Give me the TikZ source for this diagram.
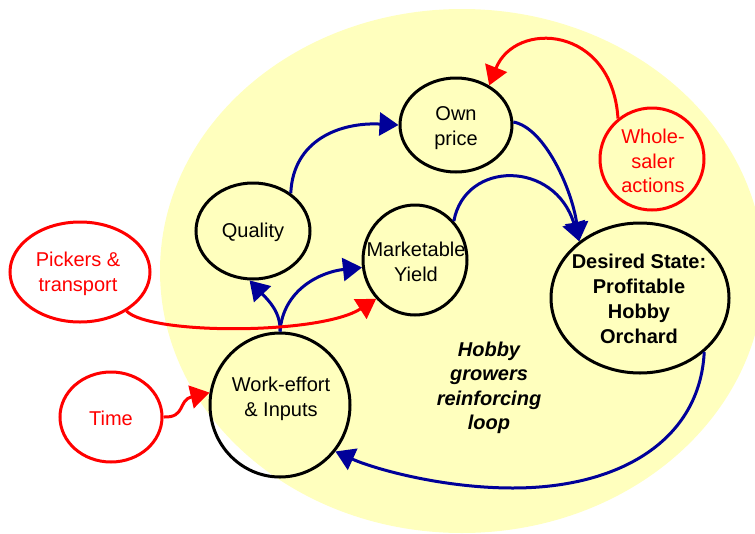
\documentclass[tikz,border=0pt]{standalone}
\usepackage{fontspec}
\setmainfont{Liberation Sans}
\usetikzlibrary{arrows.meta,shapes.geometric}
\definecolor{loopfill}{RGB}{255,255,190}
\definecolor{linkblue}{RGB}{0,0,153}
\definecolor{extred}{RGB}{255,0,0}
\begin{document}
\begin{tikzpicture}[x=1pt,y=-1pt,
  every node/.style={font=\fontsize{20}{24.5}\selectfont, align=center, inner sep=0pt},
  var/.style={ellipse, draw=black, line width=3pt},
  ext/.style={ellipse, draw=extred, line width=3pt},
  exttext/.style={text=extred},
  link/.style={draw=linkblue, line width=3pt, -{Triangle[length=19pt,width=23pt]}},
  push/.style={draw=extred, line width=3pt, -{Triangle[length=19pt,width=23pt]}}]
\useasboundingbox (0,0) rectangle (755,533);
\begin{scope}
  \clip (0,0) rectangle (755,533);
  \fill[loopfill] (462,271) ellipse [x radius=302, y radius=262];
\end{scope}

% variables of the loop (outlines)
\node[var, minimum width=112pt, minimum height=94pt] (op) at (456,125) {};
\node[var, minimum width=114pt, minimum height=96pt] (ql) at (253,231) {};
\node[var, minimum width=104pt, minimum height=110pt] (my) at (415,260) {};
\node[var, minimum width=178pt, minimum height=150pt] (ds) at (640,298) {};
\node[var, minimum width=140pt, minimum height=144pt] (we) at (280,405) {};

% outside influences (outlines)
\node[ext, minimum width=104pt, minimum height=102pt] (ws) at (652,159) {};
\node[ext, minimum width=140pt, minimum height=100pt] (pt) at (80,272) {};
\node[ext, minimum width=102pt, minimum height=90pt] (tm) at (111,417) {};

% texts
\node (op-t) at (456,128) {Own\\price};
\node (ql-t) at (253,232) {Quality};
\node (my-t) at (416,262) {Marketable\\Yield};
\node[font=\fontsize{20}{25}\selectfont\bfseries] (ds-t) at (639,299) {Desired State:\\Profitable\\Hobby\\Orchard};
\node (we-t) at (281,399) {Work-effort\\\& Inputs};
\node[exttext] (ws-t) at (653,161) {Whole-\\saler\\actions};
\node[exttext] (pt-t) at (78,274) {Pickers \&\\transport};
\node[exttext] (tm-t) at (111,418) {Time};

% loop label
\node[font=\fontsize{20}{24.4}\selectfont\bfseries\itshape] (lbl) at (489,388) {Hobby\\growers\\reinforcing\\loop};

% reinforcing links
\draw[link] (ql.45) .. controls (293,140) and (340,122) .. (op.180);
\draw[link] (op.3) .. controls (545,128) and (572,190) .. (ds.137);
\draw[link] (my.45) .. controls (465,160) and (555,160) .. (ds.137);
\draw[link] (we.90) .. controls (281,312) and (268,300) .. (ql.266);
\draw[link] (we.90) .. controls (283,290) and (320,272) .. (my.188);
\draw[link] (ds.-40) .. controls (700,440) and (620,488) .. (513,488)
                      .. controls (440,488) and (372,468) .. (we.-40);

% outside pushes
\draw[push] (pt.-40) .. controls (150,335) and (320,335) .. (my.-135);
\draw[push] (tm.east) .. controls (186,418) and (178,400) .. (we.170);
\draw[push] (ws.130) .. controls (612,25) and (515,20) .. (op.50);
\end{tikzpicture}
\end{document}
